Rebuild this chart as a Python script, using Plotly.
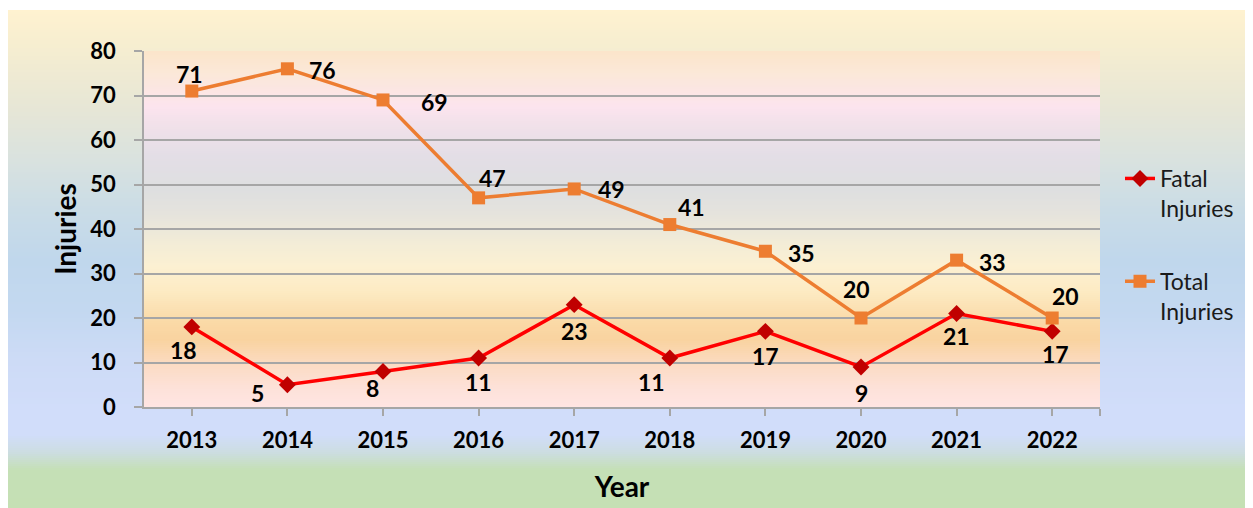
import plotly.graph_objects as go

# data
years = [2013, 2014, 2015, 2016, 2017, 2018, 2019, 2020, 2021, 2022]
fatal_injuries = [18, 5, 8, 11, 23, 11, 17, 9, 21, 17]
total_injuries = [71, 76, 69, 47, 49, 41, 35, 20, 33, 20]
y_ticks = [0, 10, 20, 30, 40, 50, 60, 70, 80]

# label nudges in pixels (dx, dy up)
fatal_shift = [(-8, -23), (-30, -8), (-11, -17), (0, -24), (0, -26),
               (-18, -24), (0, -25), (0, -26), (0, -22), (3, -23)]
total_shift = [(-2, 17), (35, -1), (51, -2), (14, 20), (37, 0),
               (22, 18), (36, -2), (-5, 29), (36, -2), (13, 22)]

# page offset: the html body has an 8px margin
OFF = 8
W, H = 1253 - OFF, 508 - OFF
L, R, T, B = 144 - OFF, 1100 - OFF, 51 - OFF, 407 - OFF


def px_x(px):
    return (px - OFF - L) / (R - L)


def px_y(py):
    return (B - (py - OFF)) / (B - T)


def hex_rgb(h):
    h = h.lstrip('#')
    return tuple(int(h[i:i + 2], 16) for i in (0, 2, 4))


def gradient(stops, y0, y1, x0, x1, step=2):
    shapes = []
    y = y0
    while y < y1:
        ym = y + step / 2
        for (a, ca), (b, cb) in zip(stops, stops[1:]):
            if a <= ym <= b:
                t = (ym - a) / (b - a) if b > a else 0
                c1, c2 = hex_rgb(ca), hex_rgb(cb)
                c = tuple(round(c1[i] + (c2[i] - c1[i]) * t) for i in range(3))
                break
        else:
            c = hex_rgb(stops[-1][1])
        shapes.append(dict(type='rect', xref='paper', yref='paper', layer='below',
                           x0=px_x(x0), x1=px_x(x1),
                           y0=px_y(y), y1=px_y(min(y + step + 0.6, y1)),
                           line=dict(width=0), fillcolor='rgb(%d,%d,%d)' % c))
        y += step
    return shapes


outer_stops = [(10, '#FFF2D0'), (43, '#F7EED0'), (110, '#E6E6D6'), (160, '#D9E2DF'),
               (210, '#CADCE6'), (260, '#C0D7EC'), (310, '#C3D8F0'), (360, '#CDDBF6'),
               (410, '#D1DDFA'), (435, '#D1DDFA'), (453, '#CCDDE0'), (470, '#C5E0B6'),
               (508, '#C5E0B4')]
plot_stops = [(51, '#FBE5CA'), (73, '#FBE8D8'), (107, '#FCE4EE'), (123, '#F2E1EA'),
              (157, '#E3DEE6'), (190, '#DEDFE0'), (213, '#E5E3DD'), (247, '#F4EDD6'),
              (267, '#FCF0D2'), (290, '#FDEBC4'), (323, '#FAD9A6'), (340, '#F9D3A0'),
              (367, '#FCDCC6'), (390, '#FDE2DA'), (407, '#FFE5E3')]

shapes = gradient(outer_stops, 10, 508, 8, 1253)
shapes += gradient(plot_stops, 51, 407, 144, 1100)

fig = go.Figure()
fig.add_trace(go.Scatter(
    x=years, y=fatal_injuries, name='Fatal<br>Injuries', mode='lines+markers',
    line=dict(color='#FF0000', width=3.5),
    marker=dict(symbol='diamond', size=13, color='#C00000', line=dict(width=0)),
    legendgroup='a'))
fig.add_trace(go.Scatter(
    x=years, y=total_injuries, name='Total<br>Injuries', mode='lines+markers',
    line=dict(color='#ED7D31', width=3.5),
    marker=dict(symbol='square', size=13, color='#ED7D31', line=dict(width=0)),
    legendgroup='b'))

label_font = dict(family='Lato', size=23, color='black', weight='bold')
annotations = []
for yr, v, (dx, dy) in zip(years, fatal_injuries, fatal_shift):
    annotations.append(dict(x=yr, y=v, text=str(v), showarrow=False, xshift=dx,
                            yshift=dy, font=label_font))
for yr, v, (dx, dy) in zip(years, total_injuries, total_shift):
    annotations.append(dict(x=yr, y=v, text=str(v), showarrow=False, xshift=dx,
                            yshift=dy, font=label_font))

fig.update_layout(
    width=W, height=H,
    margin=dict(l=L, r=W - R, t=T, b=H - B, autoexpand=False),
    paper_bgcolor='white', plot_bgcolor='rgba(0,0,0,0)',
    shapes=shapes, annotations=annotations,
    font=dict(family='Lato', color='black'),
    legend=dict(x=px_x(1120), y=px_y(157), xanchor='left', yanchor='top',
                font=dict(size=23, family='Lato', color='#1a1a1a'),
                bgcolor='rgba(0,0,0,0)', tracegroupgap=40, valign='top'),
    showlegend=True,
)
fig.update_xaxes(
    range=[2012.5, 2022.5], tickvals=years + [2022.5],
    ticktext=[str(y) for y in years] + [''],
    showgrid=False, showline=True, linecolor='#A6A6A6', linewidth=1.5,
    ticks='outside', ticklen=7, tickcolor='#A6A6A6', tickwidth=1.5,
    tickfont=dict(size=22, family='Lato', weight='bold'), ticklabelstandoff=6,
    title=dict(text='Year', font=dict(size=28, family='Lato', weight='bold'), standoff=25),
    zeroline=False, automargin=False)
fig.update_yaxes(
    range=[0, 80], tickvals=y_ticks,
    showgrid=True, gridcolor='#A6A6A6', gridwidth=1.5,
    showline=True, linecolor='#A6A6A6', linewidth=1.5,
    ticks='outside', ticklen=8, tickcolor='#A6A6A6', tickwidth=1.5,
    tickfont=dict(size=22, family='Lato', weight='bold'), ticklabelstandoff=14,
    title=dict(text='Injuries', font=dict(size=28, family='Lato', weight='bold'), standoff=6),
    zeroline=False, automargin=False)

fig.write_html('out.html')
